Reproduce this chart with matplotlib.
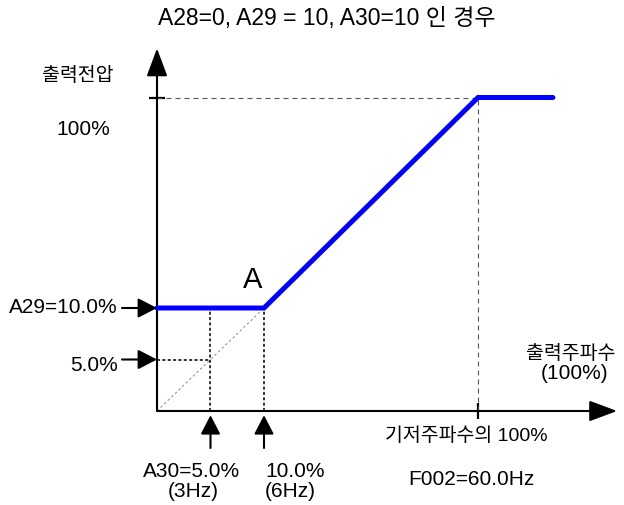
import numpy as np
import matplotlib
matplotlib.use("Agg")
import matplotlib.pyplot as plt

plt.rcParams['font.family'] = ['Liberation Sans', 'Noto Sans CJK KR', 'DejaVu Sans']

# --- Data (percent of base frequency / output voltage) ---
FREQ_PCT = [0, 10, 100, 131.5]      # blue V/F curve, x
VOLT_PCT = [10, 10, 100, 100]       # blue V/F curve, y
A29_BOOST = 10.0                    # torque boost voltage
A30_FREQ = 5.0                      # A30 point
BOOST_END = 10.0                    # end of boost (point A)
BASE_PCT = 100.0                    # base frequency / 100% voltage

TITLE = "A28=0, A29 = 10, A30=10 인 경우"
Y_LABEL = "출력전압"
Y_100 = "100%"
A29_LABEL = "A29=10.0%"
HALF_LABEL = "5.0%"
POINT_LABEL = "A"
X_LABEL = ["출력주파수", "(100%)"]
BASE_LABEL = ["기저주파수의 100%", "F002=60.0Hz"]
A30_LABEL = ["A30=5.0%", "(3Hz)"]
A_LABEL = ["10.0%", "(6Hz)"]

# --- Schematic (non-linear) scales: percent -> pixels from origin ---
W, H = 624, 505
ORIGIN = (157, 411)                 # pixel position of the origin (from top-left)
X_BREAK = ([0, 10, 100], [0, 107, 321])
Y_BREAK = ([0, 10, 100], [0, 103, 313.5])
X_AXIS_END = 158.5
Y_AXIS_END = 121


def piecewise(src, dst):
    src = np.asarray(src, float)
    dst = np.asarray(dst, float)
    s0 = (dst[1] - dst[0]) / (src[1] - src[0])
    s1 = (dst[-1] - dst[-2]) / (src[-1] - src[-2])

    def f(v):
        v = np.asarray(v, float)
        out = np.interp(v, src, dst)
        out = np.where(v < src[0], dst[0] + (v - src[0]) * s0, out)
        out = np.where(v > src[-1], dst[-1] + (v - src[-1]) * s1, out)
        return out
    return f


fx, fx_inv = piecewise(*X_BREAK), piecewise(X_BREAK[1], X_BREAK[0])
fy, fy_inv = piecewise(*Y_BREAK), piecewise(Y_BREAK[1], Y_BREAK[0])

fig = plt.figure(figsize=(W / 100, H / 100), dpi=100)
ax = fig.add_axes([0, 0, 1, 1])
ax.set_xscale('function', functions=(fx, fx_inv))
ax.set_yscale('function', functions=(fy, fy_inv))
ax.set_xlim(float(fx_inv(-ORIGIN[0])), float(fx_inv(W - ORIGIN[0])))
ax.set_ylim(float(fy_inv(-(H - ORIGIN[1]))), float(fy_inv(ORIGIN[1])))
ax.axis('off')


def px_text(x, y, s, size=15, **kw):
    fig.text(x / W, 1 - y / H, s, fontsize=size, va='baseline', **kw)


# axes with arrow heads
axis_arrow = dict(arrowstyle='-|>,head_length=0.86,head_width=0.32', color='black',
                  lw=1.5, mutation_scale=20, shrinkA=0, shrinkB=0)
ax.annotate('', xy=(0, Y_AXIS_END), xytext=(0, 0), arrowprops=axis_arrow)
ax.annotate('', xy=(X_AXIS_END, 0), xytext=(0, 0), arrowprops=axis_arrow)

# ticks at 100%
ax.plot([0], [BASE_PCT], marker='_', ms=12, mew=1.6, color='black')
ax.plot([BASE_PCT], [0], marker='|', ms=11, mew=1.6, color='black')

# gray dashed guides
guide = dict(color='#555555', lw=0.8, ls=(0, (4.5, 3.6)))
ax.plot([0, BASE_PCT], [BASE_PCT, BASE_PCT], **guide)
ax.plot([BASE_PCT, BASE_PCT], [0, BASE_PCT], **guide)
ax.plot([0, BOOST_END], [0, A29_BOOST], color='#777777', lw=0.6, ls=(0, (3, 3)))

# black dotted guides
dot = dict(color='black', lw=1.1, ls=(0, (2, 1.5)))
ax.plot([A30_FREQ, A30_FREQ], [0, A29_BOOST], **dot)
ax.plot([BOOST_END, BOOST_END], [0, A29_BOOST], **dot)
ax.plot([0, A30_FREQ], [A30_FREQ, A30_FREQ], **dot)

# V/F curve
ax.plot(FREQ_PCT, VOLT_PCT, color='#0000FF', lw=3.6,
        solid_capstyle='round', solid_joinstyle='miter', zorder=5)

# small pointer arrows
small_arrow = dict(arrowstyle='-|>,head_length=0.58,head_width=0.3', color='black',
                   lw=1.5, mutation_scale=20, shrinkA=0, shrinkB=0)
for yv in (A29_BOOST, A30_FREQ):
    ax.annotate('', xy=(0, yv), xytext=(-35, 0), textcoords='offset pixels',
                arrowprops=small_arrow, zorder=6)
for xv in (A30_FREQ, BOOST_END):
    ax.annotate('', xy=(xv, 0), xytext=(0, -37), textcoords='offset pixels',
                arrowprops=dict(small_arrow, shrinkB=3), zorder=6)

# texts
px_text(327, 25, TITLE, size=16.5, ha='center')
px_text(78, 81, Y_LABEL, size=14, ha='center')
px_text(83, 135, Y_100, ha='center')
px_text(118, 313, A29_LABEL, ha='right')
px_text(118, 371, HALF_LABEL, ha='right')
px_text(253, 288, POINT_LABEL, size=21, ha='center')
px_text(571, 359, X_LABEL[0], size=14, ha='center')
px_text(575, 379, X_LABEL[1], ha='center')
px_text(466, 441, BASE_LABEL[0], size=14, ha='center')
px_text(471, 485, BASE_LABEL[1], ha='center')
px_text(192, 477, A30_LABEL[0], ha='center')
px_text(193, 497, A30_LABEL[1], ha='center')
px_text(265, 477, A_LABEL[0], ha='left')
px_text(265, 497, A_LABEL[1], ha='left')

fig.savefig('out.png', dpi=100)
